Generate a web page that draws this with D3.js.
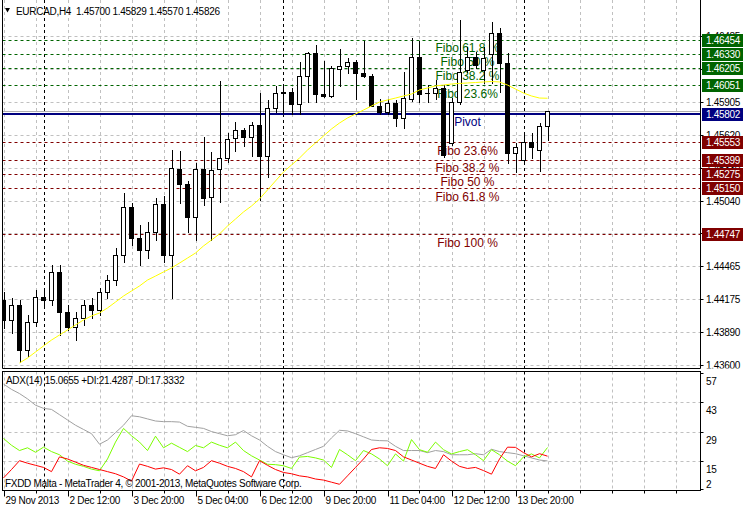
<!DOCTYPE html>
<html><head><meta charset="utf-8">
<script src="https://cdn.jsdelivr.net/npm/d3@7"></script>
<style>
body{margin:0;background:#fff}
svg{display:block}
text{font-family:"Liberation Sans",Arial,sans-serif}
</style>
</head><body>
<svg id="chart" width="743" height="509"></svg>
<script>
// ---------------- DATA ----------------
const symbolLabel = "EURCAD,H4";
const headerOHLC = ["1.45700","1.45829","1.45570","1.45826"];
const adxHeader = "ADX(14) 15.0655 +DI:21.4287 -DI:17.3332";
const copyright = "FXDD Malta - MetaTrader 4, \u00a9 2001-2013, MetaQuotes Software Corp.";

const open = [1.44170,1.43995,1.44126,1.43732,1.43977,1.44196,1.44170,1.44416,1.44065,1.43933,
1.44012,1.44126,1.44082,1.44240,1.44345,1.44565,1.44986,1.44714,1.44608,1.44766,
1.45012,1.44565,1.45319,1.45187,1.44900,1.45319,1.45071,1.45316,1.45413,1.45591,
1.45658,1.45602,1.45702,1.45435,1.45851,1.45990,1.45994,1.45886,1.46134,1.46333,
1.45974,1.45962,1.46198,1.46225,1.46254,1.46163,1.46134,1.45871,1.45821,1.45895,
1.45769,1.45933,1.46298,1.45988,1.45988,1.46032,1.45544,1.45909,1.46187,1.46303,
1.46187,1.46325,1.46509,1.46246,1.45462,1.45398,1.45558,1.45485,1.45700];
const high = [1.44240,1.44188,1.44170,1.44039,1.44258,1.44275,1.44477,1.44477,1.44126,1.44065,
1.44170,1.44188,1.44275,1.44389,1.44626,1.45108,1.45021,1.44828,1.44854,1.45064,
1.45082,1.45485,1.45477,1.45214,1.45369,1.45597,1.45465,1.46090,1.45632,1.45728,
1.45681,1.45734,1.45983,1.45924,1.46049,1.46049,1.46029,1.46260,1.46347,1.46406,
1.46266,1.46222,1.46368,1.46295,1.46274,1.46444,1.46152,1.45933,1.45933,1.45924,
1.46167,1.46465,1.46444,1.46055,1.46099,1.46055,1.45941,1.46625,1.46391,1.46345,
1.46391,1.46608,1.46555,1.46333,1.45544,1.45626,1.45632,1.45720,1.45829];
const low = [1.43924,1.43881,1.43626,1.43679,1.43942,1.44126,1.44126,1.43863,1.43907,1.43819,
1.43951,1.44012,1.44039,1.44188,1.44302,1.44503,1.44652,1.44477,1.44538,1.44696,
1.44503,1.44188,1.45021,1.44766,1.44696,1.45003,1.44696,1.45032,1.45380,1.45479,
1.45523,1.45435,1.45047,1.45251,1.45821,1.45810,1.45798,1.45798,1.45909,1.45909,
1.45953,1.45950,1.46047,1.46158,1.45933,1.46123,1.45871,1.45798,1.45798,1.45696,
1.45676,1.45915,1.45909,1.45906,1.45933,1.45427,1.45529,1.45889,1.46169,1.46204,
1.46070,1.46070,1.45997,1.45369,1.45295,1.45380,1.45413,1.45301,1.45570];
const close = [1.43995,1.44126,1.43732,1.43977,1.44196,1.44170,1.44416,1.44065,1.43933,1.44012,
1.44126,1.44082,1.44240,1.44345,1.44565,1.44986,1.44714,1.44608,1.44766,1.45012,
1.44565,1.45325,1.45185,1.44900,1.45319,1.45062,1.45307,1.45413,1.45579,1.45658,
1.45602,1.45702,1.45435,1.45851,1.45983,1.45994,1.45886,1.46134,1.46333,1.45974,
1.45962,1.46202,1.46225,1.46254,1.46158,1.46137,1.45874,1.45821,1.45895,1.45769,
1.45939,1.46298,1.45976,1.45985,1.46032,1.45441,1.45909,1.46172,1.46303,1.46231,
1.46289,1.46509,1.46246,1.45462,1.45514,1.45558,1.45514,1.45696,1.45826];

// yellow moving average (null where not drawn)
const ma = [null,null,1.43618,1.43661,1.43714,1.43767,1.43819,1.43863,1.43907,1.43951,
1.43995,1.44030,1.44056,1.44100,1.44152,1.44205,1.44249,1.44293,1.44345,1.44380,
1.44416,1.44451,1.44494,1.44538,1.44582,1.44644,1.44696,1.44749,1.44819,1.44880,
1.44942,1.44994,1.45056,1.45135,1.45214,1.45292,1.45354,1.45415,1.45485,1.45547,
1.45608,1.45670,1.45722,1.45766,1.45801,1.45836,1.45871,1.45906,1.45924,1.45941,
1.45959,1.45976,1.46012,1.46029,1.46047,1.46055,1.46064,1.46069,1.46073,1.46077,
1.46082,1.46086,1.46082,1.46055,1.46020,1.45985,1.45959,1.45941,1.45939];

const adx = [51.5,49,47,44.5,41.5,40,39.5,37,34.5,32,30,28,23,25,28.5,32,36.5,36,35,34,
33.7,33.7,33.5,31.5,31,30.5,29,28,27,27.5,29.5,27,25,22,19.5,18,16.6,17.5,19,20.5,
22,26,29.6,29.3,28,26.5,25,24.7,24.6,22,20,20,20,19,20,19.5,18,18,18,18.5,
18,20.6,19.5,19,18.5,17.5,16.5,15.5,15.07];
const plusDI = [25.7,22.5,20,21.3,19.2,21.6,19.5,18,15,13.5,12.5,11.2,10.4,16,24,30.5,27,24,20,26.8,
21.3,23.5,21.5,19.5,22.4,21.3,24,22.5,21.3,24,20,17.5,15.5,13.5,13.3,12.8,11.5,16.9,17.2,16.5,
15.5,12,20.5,18,15.2,20,18.4,16,12.8,18.4,15,25.2,20.4,19.2,24,20.4,18.4,19.5,20.4,18,
15.2,20.4,18,15,12.8,17,18.4,16.5,21.43];
const minusDI = [7,11,15.2,14,13,12,10,17,16,14.5,13,12,11,10,9,7.5,5.5,13.6,12.5,11.2,
11.8,11,8.8,12.8,10.4,12,15.2,14,12.5,11.5,10,7.5,15.2,13,11,9.6,9,8,7.5,6.5,
6,5,4,8,12,16,20.5,21.3,21,20,17,15.5,14,12.5,11.5,18,15,12.5,11.5,12,
10.5,8.8,16,21.6,21.5,19,17,18.5,17.33];

const priceTicks = [1.43600,1.43890,1.44175,1.44465,1.44755,1.45040,1.45330,1.45620,1.45905,1.46195,1.46485];
const adxTicks = [57,43,29,15,2];
const adxGrid = [43,29,15];
const timeLabels = [
  {bar:0,text:"29 Nov 2013"},{bar:8,text:"2 Dec 12:00"},{bar:16,text:"3 Dec 20:00"},
  {bar:24,text:"5 Dec 04:00"},{bar:32,text:"6 Dec 12:00"},{bar:40,text:"9 Dec 20:00"},
  {bar:48,text:"11 Dec 04:00"},{bar:56,text:"12 Dec 12:00"},{bar:64,text:"13 Dec 20:00"}];
const weekSeparators = [5,35,65];
const pivot = {price:1.45802, label:"Pivot"};
const bidPrice = 1.45826;
const fiboUp = [{price:1.46454,label:"Fibo 61.8 %"},{price:1.46330,label:"Fibo 50 %"},
                {price:1.46205,label:"Fibo 38.2 %"},{price:1.46051,label:"Fibo 23.6%"}];
const fiboDown = [{price:1.45553,label:"Fibo 23.6%"},{price:1.45399,label:"Fibo 38.2 %"},
                  {price:1.45275,label:"Fibo 50 %"},{price:1.45150,label:"Fibo 61.8 %"},
                  {price:1.44747,label:"Fibo 100 %"}];
const fiboLabelBar = 58;

// ---------------- LAYOUT ----------------
const svg = d3.select("#chart");
const L = 2.5, R = 700.5;
const mainTop = 0, mainBot = 368.5, subTop = 371.5, subBot = 490.5;
const x = d3.scaleLinear().domain([0, 68]).range([3.5, 547.5]);
const y = d3.scaleLinear().domain([1.43600, 1.46485]).range([365, 36]);
const ya = d3.scaleLinear().domain([2, 57]).range([488.5, 372.5]);
const px = v => Math.round(v) + 0.5;
const GREEN = "#006400", RED = "#800000", NAVY = "#000080", GRID = "#c0c0c0";
const FONT = 10, LS = "-0.3px";

const defs = svg.append("defs");
defs.append("clipPath").attr("id","cm").append("rect").attr("x",L).attr("y",0).attr("width",R-L).attr("height",mainBot);
defs.append("clipPath").attr("id","cs").append("rect").attr("x",L).attr("y",subTop).attr("width",R-L).attr("height",subBot-subTop);
defs.append("clipPath").attr("id","ca").append("rect").attr("x",R).attr("y",0).attr("width",50).attr("height",mainBot);

const gMain = svg.append("g").attr("clip-path","url(#cm)");
const gSub = svg.append("g").attr("clip-path","url(#cs)");

// vertical grid every 4 bars
const gridBars = d3.range(0, 90, 4).filter(k => x(k) < R);
[[gMain, mainTop, mainBot],[gSub, subTop, subBot]].forEach(([g,t,b]) => {
  g.selectAll(null).data(gridBars).join("line")
    .attr("x1", d => px(x(d))).attr("x2", d => px(x(d)))
    .attr("y1", t).attr("y2", b)
    .attr("stroke", GRID).attr("stroke-dasharray","3,3");
});
// horizontal grid
gMain.selectAll(null).data(priceTicks).join("line")
  .attr("x1", L).attr("x2", R).attr("y1", d => px(y(d))).attr("y2", d => px(y(d)))
  .attr("stroke", GRID).attr("stroke-dasharray","3,3");
gSub.selectAll(null).data(adxGrid).join("line")
  .attr("x1", L).attr("x2", R).attr("y1", d => px(ya(d))).attr("y2", d => px(ya(d)))
  .attr("stroke", GRID).attr("stroke-dasharray","3,3");

// week separators
[[gMain, mainTop, mainBot],[gSub, subTop, subBot]].forEach(([g,t,b]) => {
  g.selectAll(null).data(weekSeparators).join("line")
    .attr("x1", d => px(x(d))).attr("x2", d => px(x(d)))
    .attr("y1", t).attr("y2", b)
    .attr("stroke", "#000").attr("stroke-dasharray","3,3");
});

// fibo lines
gMain.selectAll(null).data(fiboUp).join("line")
  .attr("x1", L).attr("x2", R).attr("y1", d => px(y(d.price))).attr("y2", d => px(y(d.price)))
  .attr("stroke", GREEN).attr("stroke-dasharray","3,3");
gMain.selectAll(null).data(fiboDown).join("line")
  .attr("x1", L).attr("x2", R).attr("y1", d => px(y(d.price))).attr("y2", d => px(y(d.price)))
  .attr("stroke", RED).attr("stroke-dasharray","3,3");
// bid line + pivot
gMain.append("line").attr("x1",L).attr("x2",R)
  .attr("y1", px(y(bidPrice))).attr("y2", px(y(bidPrice))).attr("stroke","#b0b0b0");
gMain.append("line").attr("x1",L).attr("x2",R)
  .attr("y1", Math.round(y(pivot.price))).attr("y2", Math.round(y(pivot.price)))
  .attr("stroke",NAVY).attr("stroke-width",2);

// fibo labels
const lx = x(fiboLabelBar);
gMain.selectAll(null).data(fiboUp).join("text")
  .attr("x", lx).attr("y", d => y(d.price) + 12.5).attr("text-anchor","middle")
  .attr("font-size",12).attr("fill",GREEN).text(d => d.label);
gMain.selectAll(null).data(fiboDown).join("text")
  .attr("x", lx).attr("y", d => y(d.price) + 12.5).attr("text-anchor","middle")
  .attr("font-size",12).attr("fill",RED).text(d => d.label);
gMain.append("text").attr("x", lx).attr("y", y(pivot.price) + 12)
  .attr("text-anchor","middle").attr("font-size",12).attr("fill",NAVY).text(pivot.label);

// candles
const idx = d3.range(open.length);
const cg = gMain.append("g");
cg.selectAll(null).data(idx).join("line")
  .attr("x1", i => px(x(i))).attr("x2", i => px(x(i)))
  .attr("y1", i => Math.round(y(high[i]))).attr("y2", i => Math.round(y(low[i])) + 1)
  .attr("stroke","#000");
idx.forEach(i => {
  const c = Math.round(x(i) - 0.5);
  const yo = Math.round(y(open[i])), yc = Math.round(y(close[i]));
  const top = Math.min(yo, yc), bot = Math.max(yo, yc);
  if (close[i] > open[i]) {
    cg.append("rect").attr("x", c - 1.5).attr("y", top + 0.5)
      .attr("width", 4).attr("height", Math.max(bot - top, 1))
      .attr("fill","#fff").attr("stroke","#000");
  } else {
    cg.append("rect").attr("x", c - 2).attr("y", top)
      .attr("width", 5).attr("height", bot - top + 1).attr("fill","#000");
  }
});

// moving average
gMain.append("path").datum(idx.filter(i => ma[i] != null))
  .attr("d", d3.line().x(i => x(i)).y(i => y(ma[i])))
  .attr("fill","none").attr("stroke","#ffff00").attr("stroke-width",1);

// ADX lines
const adxLine = arr => d3.line().x(i => x(i)).y(i => ya(arr[i]));
gSub.append("path").datum(idx).attr("d", adxLine(adx)).attr("fill","none").attr("stroke","#a0a0a0");
gSub.append("path").datum(idx).attr("d", adxLine(plusDI)).attr("fill","none").attr("stroke","#7cfc00");
gSub.append("path").datum(idx).attr("d", adxLine(minusDI)).attr("fill","none").attr("stroke","#ff0000");

// frames
const fr = svg.append("g").attr("stroke","#000").attr("fill","none");
fr.append("line").attr("x1",L).attr("x2",L).attr("y1",0).attr("y2",mainBot);
fr.append("line").attr("x1",R).attr("x2",R).attr("y1",0).attr("y2",mainBot);
fr.append("line").attr("x1",L).attr("x2",R).attr("y1",mainBot).attr("y2",mainBot);
fr.append("rect").attr("x",L).attr("y",subTop).attr("width",R-L).attr("height",subBot-subTop);

// price axis labels (boxes of the levels are drawn over the plain ticks)
const ax = svg.append("g").attr("font-size",FONT).attr("letter-spacing",LS);
const boxes = fiboUp.map(d=>({p:d.price,c:GREEN}))
  .concat([{p:pivot.price,c:NAVY}])
  .concat(fiboDown.map(d=>({p:d.price,c:RED})));
const boxY = boxes.map(b => Math.round(y(b.p)));
ax.selectAll(null).data(priceTicks).join("line")
  .attr("x1",R).attr("x2",R+3).attr("y1",d=>px(y(d))).attr("y2",d=>px(y(d))).attr("stroke","#000");
// plain labels: skip those fully hidden under a level box; clip the rest to the axis area
const axTxt = ax.append("g").attr("clip-path","url(#ca)");
axTxt.selectAll(null).data(priceTicks.filter(d => boxY.every(b => Math.abs(b - y(d)) > 3))).join("text")
  .attr("x",706).attr("y",d=>y(d)+4).attr("fill","#000").text(d=>d.toFixed(5));
boxes.forEach((b,i) => {
  const yy = boxY[i];
  ax.append("rect").attr("x",702).attr("y",yy-6).attr("width",41).attr("height",13).attr("fill",b.c);
  ax.append("text").attr("x",706).attr("y",yy+4).attr("fill","#fff").text(b.p.toFixed(5));
});

// ADX axis labels
ax.selectAll(null).data(adxTicks).join("line")
  .attr("x1",R).attr("x2",R+3).attr("y1",d=>px(ya(d))).attr("y2",d=>px(ya(d))).attr("stroke","#000");
ax.selectAll(null).data(adxTicks).join("text")
  .attr("x",706).attr("y",d=> d===2 ? ya(d)-1 : ya(d)+12).attr("fill","#000").text(d=>d);

// time axis
const tg = svg.append("g").attr("font-size",FONT).attr("letter-spacing",LS);
tg.selectAll(null).data(gridBars).join("line")
  .attr("x1",d=>px(x(d))).attr("x2",d=>px(x(d))).attr("y1",subBot).attr("y2",subBot+3).attr("stroke","#000");
tg.selectAll(null).data(timeLabels).join("line")
  .attr("x1",d=>px(x(d.bar))).attr("x2",d=>px(x(d.bar))).attr("y1",subBot).attr("y2",subBot+6).attr("stroke","#000");
tg.selectAll(null).data(timeLabels).join("text")
  .attr("x",d=>x(d.bar)+2).attr("y",504).attr("fill","#000").text(d=>d.text);

// header texts
svg.append("path").attr("d","M5,8 L10,8 L7.5,12.5 Z").attr("fill","#000");
svg.append("text").attr("x",16).attr("y",15).attr("font-size",FONT).attr("letter-spacing",LS)
  .attr("xml:space","preserve").style("white-space","pre")
  .text(symbolLabel + "  " + headerOHLC.join(" "));
svg.append("text").attr("x",6).attr("y",384).attr("font-size",FONT).attr("letter-spacing",LS)
  .text(adxHeader);
svg.append("text").attr("x",5).attr("y",487).attr("font-size",FONT).attr("letter-spacing",LS)
  .text(copyright);
</script>
</body></html>
